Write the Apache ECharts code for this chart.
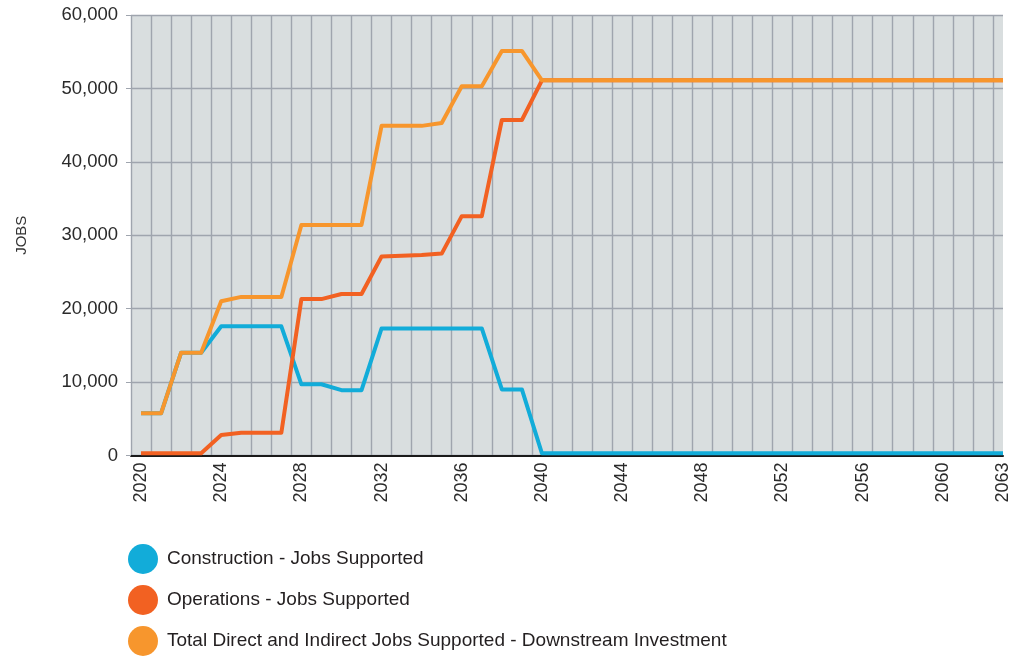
<!DOCTYPE html>
<html>
<head>
<meta charset="utf-8">
<title>Jobs Supported</title>
<script src="https://cdn.jsdelivr.net/npm/echarts@6/dist/echarts.min.js"></script>
<style>
  html, body { margin: 0; padding: 0; background: #ffffff; }
  #chart { width: 1016px; height: 656px; }
</style>
</head>
<body>
<div id="chart"></div>
<script>
// Years on the horizontal axis
const years = [
  2020, 2021, 2022, 2023, 2024, 2025, 2026, 2027, 2028, 2029,
  2030, 2031, 2032, 2033, 2034, 2035, 2036, 2037, 2038, 2039,
  2040, 2041, 2042, 2043, 2044, 2045, 2046, 2047, 2048, 2049,
  2050, 2051, 2052, 2053, 2054, 2055, 2056, 2057, 2058, 2059,
  2060, 2061, 2062, 2063
];

// Years that carry a label under the axis
const yearLabels = [2020, 2024, 2028, 2032, 2036, 2040, 2044, 2048, 2052, 2056, 2060, 2063];

const seriesNames = [
  'Construction - Jobs Supported',
  'Operations - Jobs Supported',
  'Total Direct and Indirect Jobs Supported - Downstream Investment'
];

const construction = [
  5750, 5750, 14000, 14000, 17600, 17600, 17600, 17600, 9700, 9700,
  8900, 8900, 17300, 17300, 17300, 17300, 17300, 17300, 9000, 9000,
  300, 300, 300, 300, 300, 300, 300, 300, 300, 300,
  300, 300, 300, 300, 300, 300, 300, 300, 300, 300,
  300, 300, 300, 300
];

const operations = [
  300, 300, 300, 300, 2800, 3100, 3100, 3100, 21300, 21300,
  22000, 22000, 27100, 27200, 27300, 27500, 32600, 32600, 45700, 45700,
  51100, 51100, 51100, 51100, 51100, 51100, 51100, 51100, 51100, 51100,
  51100, 51100, 51100, 51100, 51100, 51100, 51100, 51100, 51100, 51100,
  51100, 51100, 51100, 51100
];

const totalDownstream = [
  5750, 5750, 14000, 14000, 21000, 21600, 21600, 21600, 31400, 31400,
  31400, 31400, 44900, 44900, 44900, 45300, 50300, 50300, 55100, 55100,
  51100, 51100, 51100, 51100, 51100, 51100, 51100, 51100, 51100, 51100,
  51100, 51100, 51100, 51100, 51100, 51100, 51100, 51100, 51100, 51100,
  51100, 51100, 51100, 51100
];

const yTicks = [0, 10000, 20000, 30000, 40000, 50000, 60000];

const colors = ['#12acd9', '#f26122', '#f7962d'];
const FONT = '"Liberation Sans", Arial, Helvetica, sans-serif';

const pairs = (vals) => years.map((y, i) => [y, vals[i]]);

const chart = echarts.init(document.getElementById('chart'), null, { renderer: 'canvas' });

chart.setOption({
  animation: false,
  backgroundColor: '#ffffff',
  color: colors,
  textStyle: { fontFamily: FONT },
  grid: {
    left: 131,
    right: 13,
    top: 15,
    bottom: 200.5,
    show: true,
    backgroundColor: '#d9dedf',
    borderWidth: 0
  },
  xAxis: {
    type: 'value',
    min: years[0] - 0.5,
    max: years[years.length - 1],
    interval: 1,
    axisLine: { show: true, onZero: false, lineStyle: { color: '#1a1a1a', width: 2 } },
    axisTick: { show: false },
    splitLine: {
      show: true,
      showMaxLine: false,
      lineStyle: { color: '#9fa5ae', width: 1.4 }
    },
    axisLabel: {
      customValues: yearLabels,
      rotate: 90,
      margin: 7,
      fontSize: 18,
      color: '#2a2a2a',
      fontFamily: FONT,
      formatter: (v) => String(v)
    }
  },
  yAxis: {
    type: 'value',
    min: yTicks[0],
    max: yTicks[yTicks.length - 1],
    interval: yTicks[1] - yTicks[0],
    name: 'JOBS',
    nameLocation: 'middle',
    nameRotate: 90,
    nameGap: 102,
    nameTextStyle: { fontSize: 15, color: '#333333', fontFamily: FONT },
    axisLine: { show: false },
    axisTick: { show: true, length: 5, lineStyle: { color: '#9fa5ae', width: 1 } },
    splitLine: { show: true, lineStyle: { color: '#9fa5ae', width: 1.4 } },
    axisLabel: {
      margin: 13,
      fontSize: 18.5,
      color: '#2a2a2a',
      fontFamily: FONT,
      formatter: (v) => v.toLocaleString('en-US')
    }
  },
  legend: {
    orient: 'vertical',
    left: 128,
    top: 544,
    padding: 0,
    itemWidth: 30,
    itemHeight: 30,
    itemGap: 11,
    icon: 'circle',
    textStyle: { fontSize: 19, color: '#231f20', fontFamily: FONT, padding: [0, 0, 0, 4] },
    data: seriesNames
  },
  series: [
    { name: seriesNames[0], data: pairs(construction) },
    { name: seriesNames[1], data: pairs(operations) },
    { name: seriesNames[2], data: pairs(totalDownstream) }
  ].map((s, i) => ({
    type: 'line',
    name: s.name,
    data: s.data,
    showSymbol: false,
    symbol: 'none',
    z: 2 + i,
    lineStyle: { width: 4, color: colors[i], join: 'round' },
    itemStyle: { color: colors[i] }
  }))
});
</script>
</body>
</html>
